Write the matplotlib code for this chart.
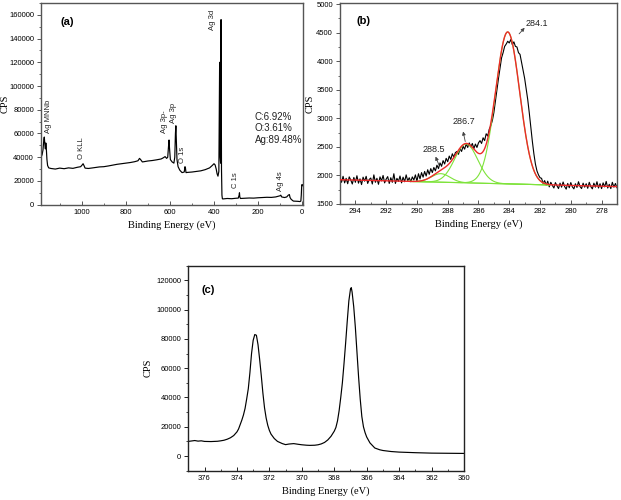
import numpy as np
import matplotlib
matplotlib.use("Agg")
import matplotlib.pyplot as plt
from matplotlib.ticker import MultipleLocator

# ---------------- data ----------------
# (a) survey spectrum: binding energy (eV) and counts
survey_be = [1185, 1180, 1176, 1172, 1170, 1167, 1165, 1163, 1161, 1158, 1155, 1150, 1140, 1120,
             1100, 1080, 1060, 1040, 1020, 1005, 998, 994, 990, 985, 970, 950, 920, 900, 880,
             860, 840, 820, 800, 780, 760, 745, 738, 733, 725, 715, 700, 680, 660, 640, 630, 622,
             615, 610, 606, 604, 602, 598, 590, 582, 578, 575, 573, 571, 568, 563, 555, 545, 535,
             532, 530, 527, 520, 500, 480, 460, 440, 420, 408, 400, 395, 390, 386, 382, 378, 376,
             374.5, 373.5, 372, 370, 369, 368, 367, 366, 364, 362, 360, 340, 320, 300, 290, 286,
             284.5, 283, 280, 260, 240, 220, 200, 180, 160, 140, 120, 100, 97, 93, 80, 70, 63, 58,
             55, 50, 40, 20, 10, 6, 4, 2, 0, -2]
survey_cps = [40000, 42000, 46000, 55000, 57000, 50000, 47000, 52000, 48000, 38000, 33000, 31000,
              30500, 30000, 30800, 30300, 31000, 30600, 31500, 32000, 33500, 34500, 33000, 30800,
              30500, 31000, 31800, 32000, 32600, 33300, 34000, 34500, 35000, 35500, 36200, 37000,
              39000, 38000, 36000, 36300, 36800, 37200, 37800, 38500, 39500, 40500, 39000, 40000,
              50000, 54500, 48000, 38000, 36000, 35000, 40000, 60000, 66500, 55000, 38000, 32000,
              29000, 27000, 27500, 32000, 31500, 27000, 27200, 27500, 28000, 28500, 29500, 31000,
              33000, 34500, 33500, 30000, 26000, 24000, 28000, 80000, 120000, 80000, 40000, 35000,
              90000, 156000, 100000, 30000, 8000, 5000, 4800, 5200, 5000, 5400, 5500, 8000, 10000,
              6500, 5200, 5400, 5600, 5500, 5800, 6000, 6200, 6100, 6500, 7500, 8000, 6500, 6000,
              6500, 8000, 8500, 6000, 4500, 3000, 2800, 2600, 3000, 8000, 16500, 17000, 16000]
survey_labels = ["Ag MNNb", "O KLL", "Ag 3p-", "Ag 3p", "O 1s", "Ag 3d", "C 1s", "Ag 4s"]
survey_label_be = [1150, 1003, 625, 585, 544, 409, 302, 97]
survey_label_cps = [60300, 38400, 60300, 68700, 35000, 147000, 14000, 11200]
composition_text = "C:6.92%\nO:3.61%\nAg:89.48%"

# (b) C 1s high-resolution spectrum, 295.0 -> 277.0 eV in 0.1 eV steps
c1s_be = np.round(np.arange(295.0, 276.95, -0.1), 1)
c1s_cps = [1960, 1880, 1985, 1870, 1950, 1855, 1975, 1920, 1850, 1965,
           1880, 1995, 1865, 1940, 1840, 1970, 1900, 1985, 1860, 1930,
           1955, 1850, 2010, 1880, 1950, 1845, 1975, 1905, 2000, 1870,
           1935, 1980, 1860, 1960, 1880, 2030, 1860, 1950, 1895, 1990,
           1870, 1970, 1890, 2010, 1905, 1960,
           1890, 1975, 1920, 2010, 1900, 2030, 1940, 2050, 1970, 2070, 1990, 2100, 2020, 2120, 2050,
           2140, 2080, 2180, 2120, 2220, 2160, 2260, 2200, 2300, 2240, 2340, 2280, 2380, 2320, 2400,
           2420, 2370, 2470, 2420, 2510, 2460, 2550, 2490, 2570, 2500, 2560, 2470, 2550, 2490, 2570,
           2610, 2560, 2660, 2610, 2730, 2690, 2810, 2870, 2960, 3100,
           3300, 3500, 3700, 3880, 4060, 4150, 4260, 4300, 4350, 4320,
           4380, 4290, 4340, 4260, 4250, 4150, 4120, 3980, 3850, 3700,
           3520, 3330, 3100, 2850, 2600, 2380, 2200, 2080, 2010, 1960,
           1950, 1860, 1910, 1830, 1900, 1800, 1880, 1825, 1780, 1875,
           1820, 1770, 1865, 1795, 1885, 1805, 1760, 1860, 1785, 1875,
           1800, 1765, 1855, 1790, 1890, 1805, 1770, 1865, 1795, 1855,
           1775, 1880, 1805, 1765, 1865, 1795, 1890, 1780, 1855, 1770,
           1870, 1800, 1895, 1780, 1845, 1770, 1880, 1795, 1860, 1785]
# peak-fit parameters
fit_centers = [288.45, 286.8, 284.1]
fit_heights = [150, 680, 2660]
fit_sigmas = [0.6, 0.75, 0.78]
fit_baseline_be = [295.0, 277.0]
fit_baseline_cps = [1925, 1805]
fit_component_range = [290.6, 281.4]
c1s_peak_labels = ["288.5", "286.7", "284.1"]

# (c) Ag 3d high-resolution spectrum
ag3d_be = [377.0, 376.8, 376.6, 376.4, 376.2, 376.0, 375.6, 375.2, 375.0, 374.8, 374.6, 374.4,
           374.2, 374.0, 373.9, 373.8, 373.7, 373.6, 373.5, 373.4, 373.3, 373.2, 373.1, 373.0,
           372.9, 372.8, 372.7, 372.6, 372.5, 372.4, 372.3, 372.2, 372.1, 372.0, 371.9, 371.7,
           371.5, 371.2, 371.0, 370.8, 370.5, 370.2, 370.0, 369.7, 369.5, 369.2, 369.0, 368.8,
           368.6, 368.4, 368.2, 368.0, 367.9, 367.8, 367.7, 367.6, 367.5, 367.4, 367.3, 367.2,
           367.1, 367.0, 366.95, 366.9, 366.8, 366.7, 366.6, 366.5, 366.4, 366.3, 366.2, 366.1,
           366.0, 365.8, 365.5, 365.2, 365.0, 364.5, 364.0, 363.0, 362.0, 361.0, 360.0]
ag3d_cps = [10000, 10300, 10600, 10200, 10400, 10000, 9900, 10100, 10400, 10800, 11500, 12500,
            14000, 16500, 18500, 21500, 24500, 28000, 32500, 39000, 46000, 57000, 70000, 79000,
            83000, 82500, 76000, 66000, 55000, 43000, 33000, 26000, 21000, 17500, 15000, 12000,
            10000, 8500, 7800, 8200, 8500, 8000, 7700, 7400, 7300, 7400, 7700, 8300,
            9300, 11000, 13500, 17000, 19500, 24000, 31000, 40000, 50000, 63000, 77000, 92000,
            106000, 114000, 115000, 112000, 102000, 88000, 71000, 54000, 39000, 27000, 20000, 16000,
            13000, 9000, 5500, 4300, 3800, 3100, 2700, 2300, 2000, 1900, 1800]

# ---------------- style ----------------
SANS = ["Liberation Sans", "DejaVu Sans"]
SERIF = ["Liberation Serif", "DejaVu Serif"]
plt.rcParams["font.family"] = SANS

fig = plt.figure(figsize=(6.21, 5.0), dpi=100)


def style_axes(ax, spine_color, ylabel_x):
    for s in ax.spines.values():
        s.set_color(spine_color)
        s.set_linewidth(1.0)
    ax.tick_params(axis="x", which="both", direction="in", labelsize=5.5, colors="black",
                   pad=3)
    ax.tick_params(axis="y", which="both", direction="out", labelsize=5.5, colors="black",
                   pad=2)
    ax.tick_params(which="major", length=3, width=0.7, color=spine_color)
    ax.tick_params(which="minor", length=1.8, width=0.6, color=spine_color)
    ax.tick_params(top=False, right=False)
    ax.set_xlabel("Binding Energy (eV)", family=SERIF, fontsize=7.5, labelpad=3)
    ax.set_ylabel("CPS", family=SERIF, fontsize=7.5)
    ax.yaxis.set_label_coords(ylabel_x, 0.5)


# ---- (a) ----
axa = fig.add_axes([0.066, 0.59, 0.422, 0.404])
axa.plot(survey_be, survey_cps, color="black", lw=0.85)
axa.set_xlim(1185, -4)
axa.set_ylim(-300, 170000)
axa.xaxis.set_major_locator(MultipleLocator(200))
axa.xaxis.set_minor_locator(MultipleLocator(100))
axa.yaxis.set_major_locator(MultipleLocator(20000))
axa.yaxis.set_minor_locator(MultipleLocator(10000))
style_axes(axa, "#555555", -0.12)
for lab, x, y in zip(survey_labels, survey_label_be, survey_label_cps):
    axa.text(x, y, lab, rotation=90, ha="center", va="bottom", fontsize=5.5, color="#222222")
axa.text(214, 78500, composition_text, ha="left", va="top", fontsize=7,
         linespacing=1.2, color="#222222")
axa.text(1098, 154000, "(a)", fontsize=8, fontweight="bold", ha="left", va="center")

# ---- (b) ----
axb = fig.add_axes([0.5475, 0.592, 0.446, 0.402])
be_fine = np.linspace(fit_baseline_be[0], fit_baseline_be[1], 1200)
base_fine = np.interp(be_fine, fit_baseline_be[::-1], fit_baseline_cps[::-1])
comps = [h * np.exp(-0.5 * ((be_fine - c) / s) ** 2)
         for c, h, s in zip(fit_centers, fit_heights, fit_sigmas)]
mask = (be_fine <= fit_component_range[0]) & (be_fine >= fit_component_range[1])
axb.plot(c1s_be, c1s_cps, color="black", lw=0.8, zorder=2)
for comp in comps:
    axb.plot(be_fine[mask], (base_fine + comp)[mask], color="#7ee33a", lw=0.8, zorder=3)
axb.plot(be_fine[mask], base_fine[mask], color="#7ee33a", lw=0.8, zorder=3)
axb.plot(be_fine, base_fine + sum(comps), color="#ee2a2a", lw=1.0, zorder=4)
axb.set_xlim(295, 277)
axb.set_ylim(1500, 5020)
axb.xaxis.set_major_locator(MultipleLocator(2))
axb.xaxis.set_minor_locator(MultipleLocator(1))
axb.yaxis.set_major_locator(MultipleLocator(500))
axb.yaxis.set_minor_locator(MultipleLocator(250))
style_axes(axb, "#555555", -0.09)
axb.text(293.9, 4700, "(b)", fontsize=8, fontweight="bold", ha="left", va="center")
label_pos = [(288.9, 2448), (286.96, 2946), (282.24, 4656)]
arrows = [((288.57, 2185), (288.79, 2330)), ((286.86, 2594), (287.0, 2770)),
          ((283.36, 4480), (283.0, 4585))]
for lab, (tx, ty), (tail, head) in zip(c1s_peak_labels, label_pos, arrows):
    axb.text(tx, ty, lab, fontsize=6.5, ha="center", va="center", color="#222222")
    axb.annotate("", xy=head, xytext=tail,
                 arrowprops=dict(arrowstyle="-|>", color="#444444", lw=0.6,
                                 mutation_scale=5, shrinkA=0, shrinkB=0))

# ---- (c) ----
axc = fig.add_axes([0.3032, 0.0586, 0.444, 0.410])
axc.plot(ag3d_be, ag3d_cps, color="black", lw=0.85)
axc.set_xlim(377, 360)
axc.set_ylim(-10000, 130000)
axc.xaxis.set_major_locator(MultipleLocator(2))
axc.xaxis.set_minor_locator(MultipleLocator(1))
axc.yaxis.set_major_locator(MultipleLocator(20000))
axc.yaxis.set_minor_locator(MultipleLocator(10000))
style_axes(axc, "#222222", -0.13)
axc.text(376.2, 113600, "(c)", fontsize=8, fontweight="bold", ha="left", va="center")

fig.savefig("out.png", dpi=100)
